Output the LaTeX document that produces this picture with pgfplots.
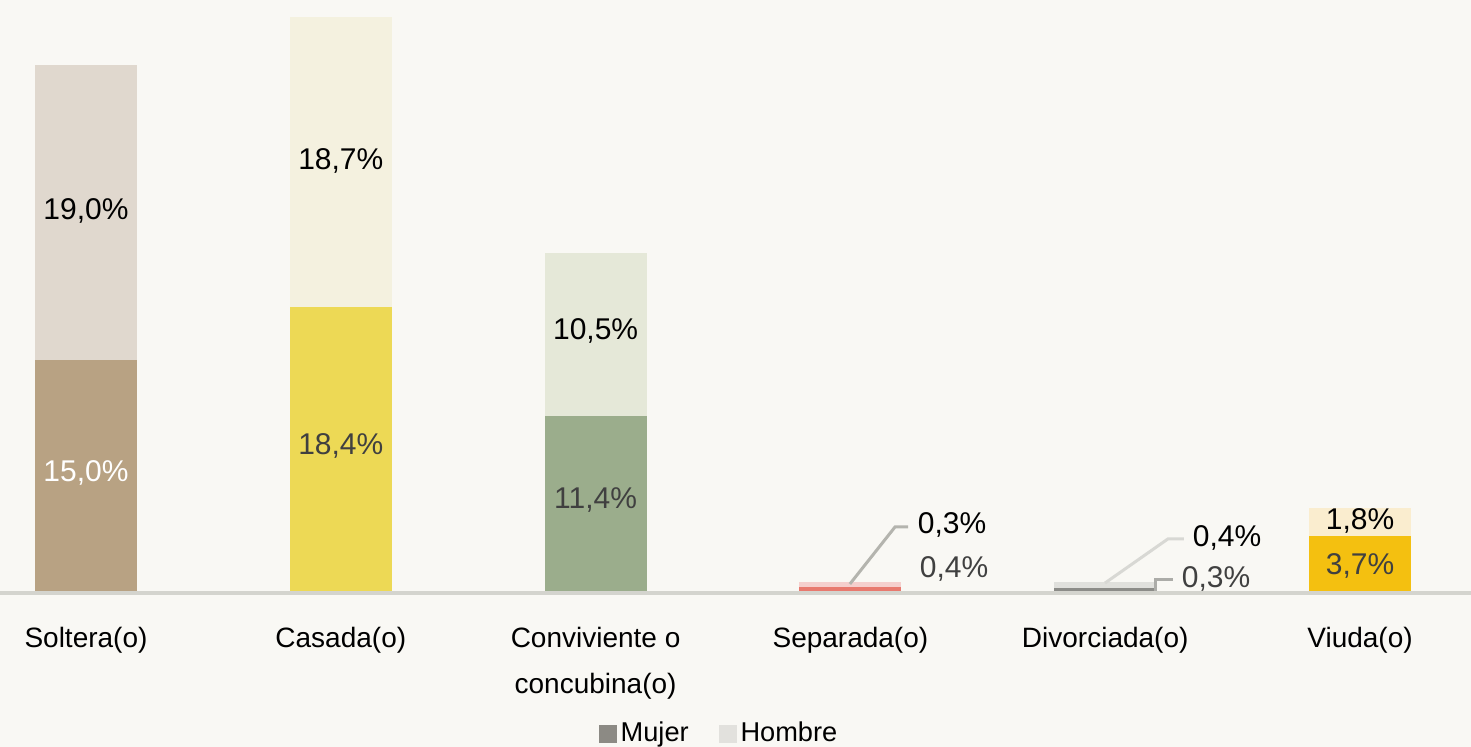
\documentclass[border=0pt]{standalone}
\usepackage{pgfplots}
\pgfplotsset{compat=1.18}
\usepackage{fontspec}
\setmainfont{Liberation Sans}
\definecolor{bg}{HTML}{F9F8F4}
\definecolor{solM}{HTML}{B8A283}\definecolor{solH}{HTML}{E0D8CE}
\definecolor{casM}{HTML}{EDD955}\definecolor{casH}{HTML}{F4F1DF}
\definecolor{conM}{HTML}{9BAD8C}\definecolor{conH}{HTML}{E5E8D8}
\definecolor{sepM}{HTML}{E8796E}\definecolor{sepH}{HTML}{F5CFCD}
\definecolor{divM}{HTML}{8C8C88}\definecolor{divH}{HTML}{E0E0DC}
\definecolor{viuM}{HTML}{F4C010}\definecolor{viuH}{HTML}{FAEDCF}
\definecolor{legM}{HTML}{8C8A84}\definecolor{legH}{HTML}{E2E1DD}
\definecolor{axisc}{HTML}{D4D4CE}
\definecolor{dark}{HTML}{404040}
\definecolor{lead1}{HTML}{B4B4AE}
\definecolor{lead2}{HTML}{D8D8D4}
\definecolor{lead3}{HTML}{ACACA8}
\begin{document}
\begin{tikzpicture}
\fill[bg] (0pt,-77pt) rectangle (735.5pt,296.5pt);
\begin{axis}[
  at={(0pt,0pt)}, anchor=south west, scale only axis,
  width=735.5pt, height=296.5pt,
  xmin=-0.3375, xmax=5.4356, ymin=0, ymax=38.18,
  ybar, bar width=0.4, bar shift=0pt,
  axis x line=bottom, axis y line=none,
  x axis line style={-, draw=axisc, line width=2pt},
  axis on top,
  xtick={0,...,5},
  xticklabels={Soltera(o), Casada(o), {Conviviente o\\concubina(o)}, Separada(o), Divorciada(o), Viuda(o)},
  major tick length=0pt,
  xticklabel style={align=center, anchor=north, yshift=-13.5pt, font=\fontsize{14}{23}\selectfont},
  clip=false,
  legend style={at={(rel axis cs:0.4895,0)}, anchor=center, yshift=-70pt, draw=none, fill=none,
    legend columns=-1, font=\fontsize{13.6}{16}\selectfont,
    /tikz/every even column/.append style={column sep=13pt}},
]
\addplot[fill=solH, draw=none, forget plot] coordinates {(0,34.0)};
\addplot[fill=solM, draw=none, forget plot] coordinates {(0,15.0)};
\addplot[fill=casH, draw=none, forget plot] coordinates {(1,37.1)};
\addplot[fill=casM, draw=none, forget plot] coordinates {(1,18.4)};
\addplot[fill=conH, draw=none, forget plot] coordinates {(2,21.9)};
\addplot[fill=conM, draw=none, forget plot] coordinates {(2,11.4)};
\addplot[fill=sepH, draw=none, forget plot] coordinates {(3,0.7)};
\addplot[fill=sepM, draw=none, forget plot] coordinates {(3,0.4)};
\addplot[fill=divH, draw=none, forget plot] coordinates {(4,0.7)};
\addplot[fill=divM, draw=none, forget plot] coordinates {(4,0.3)};
\addplot[fill=viuH, draw=none, forget plot] coordinates {(5,5.5)};
\addplot[fill=viuM, draw=none, forget plot] coordinates {(5,3.7)};

\addlegendimage{legend image code/.code={\fill[legM] (0pt,-4.5pt) rectangle (8.5pt,4pt);}}
\addlegendentry{Mujer}
\addlegendimage{legend image code/.code={\fill[legH] (0pt,-4.5pt) rectangle (8.5pt,4pt);}}
\addlegendentry{Hombre}

\tikzset{vl/.style={font=\fontsize{15}{18}\selectfont, yshift=-1.5pt}}
\node[vl] at (axis cs:0,24.79) {19,0\%};
\node[vl,text=white] at (axis cs:0,7.92) {15,0\%};
\node[vl] at (axis cs:1,28.01) {18,7\%};
\node[vl,text=dark] at (axis cs:1,9.66) {18,4\%};
\node[vl] at (axis cs:2,17.06) {10,5\%};
\node[vl,text=dark] at (axis cs:2,6.18) {11,4\%};
\node[vl] at (axis cs:3.399,4.57) {0,3\%};
\node[vl,text=dark] at (axis cs:3.407,1.74) {0,4\%};
\node[vl] at (axis cs:4.478,3.73) {0,4\%};
\node[vl,text=dark] at (axis cs:4.435,1.09) {0,3\%};
\node[vl] at (axis cs:5,4.83) {1,8\%};
\node[vl,text=dark] at (axis cs:5,1.93) {3,7\%};

\draw[lead1, line width=1.5pt] (axis cs:2.998,0.58) -- (axis cs:3.175,4.25) -- (axis cs:3.226,4.25);
\draw[lead2, line width=1.5pt] (axis cs:3.999,0.64) -- (axis cs:4.246,3.48) -- (axis cs:4.309,3.48);
\draw[lead3, line width=1.5pt] (axis cs:4.199,0.06) -- (axis cs:4.199,0.84) -- (axis cs:4.266,0.84);
\end{axis}
\pgfresetboundingbox
\path (0pt,-77pt) rectangle (735.5pt,296.5pt);
\end{tikzpicture}
\end{document}
